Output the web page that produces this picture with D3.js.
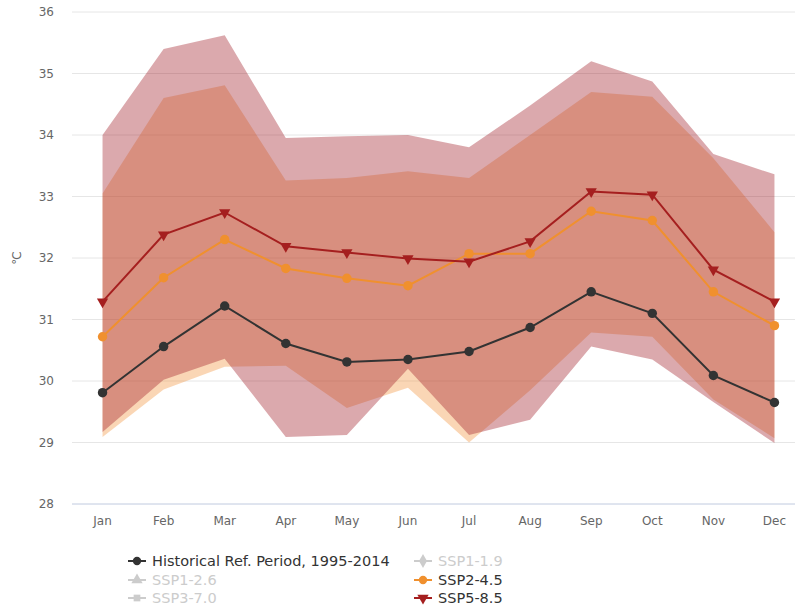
<!DOCTYPE html>
<html>
<head>
<meta charset="utf-8">
<script src="https://cdn.jsdelivr.net/npm/d3@7"></script>
<style>
  html, body { margin: 0; padding: 0; background: #fff; }
  svg { display: block; font-family: "DejaVu Sans", sans-serif; }
</style>
</head>
<body>
<svg id="chart" width="795" height="609"></svg>
<script>
// Monthly mean temperature (°C): historical reference and two SSP projections with ranges
const months = ["Jan","Feb","Mar","Apr","May","Jun","Jul","Aug","Sep","Oct","Nov","Dec"];
const yTicks = [28, 29, 30, 31, 32, 33, 34, 35, 36];

const historical = [29.81, 30.56, 31.22, 30.61, 30.31, 30.35, 30.48, 30.87, 31.45, 31.10, 30.09, 29.65];
const ssp245     = [30.72, 31.68, 32.30, 31.83, 31.67, 31.55, 32.07, 32.07, 32.76, 32.61, 31.45, 30.90];
const ssp585     = [31.29, 32.38, 32.74, 32.19, 32.09, 31.99, 31.94, 32.27, 33.08, 33.03, 31.81, 31.29];

const ssp245Low  = [29.09, 29.86, 30.23, 30.25, 29.56, 29.89, 29.00, 29.85, 30.79, 30.72, 29.70, 29.07];
const ssp245High = [33.05, 34.60, 34.81, 33.26, 33.30, 33.41, 33.30, 34.00, 34.70, 34.62, 33.62, 32.42];
const ssp585Low  = [29.17, 30.02, 30.36, 29.09, 29.12, 30.20, 29.12, 29.37, 30.56, 30.35, 29.66, 28.99];
const ssp585High = [34.00, 35.40, 35.62, 33.95, 33.98, 34.00, 33.80, 34.48, 35.20, 34.87, 33.69, 33.36];

const legendItems = [
  { name: "Historical Ref. Period, 1995-2014", symbol: "circle",   color: "#333333", active: true,  col: 0, row: 0 },
  { name: "SSP1-1.9",                          symbol: "diamond",  color: "#cccccc", active: false, col: 1, row: 0 },
  { name: "SSP1-2.6",                          symbol: "triangle", color: "#cccccc", active: false, col: 0, row: 1 },
  { name: "SSP2-4.5",                          symbol: "circle",   color: "#f0902e", active: true,  col: 1, row: 1 },
  { name: "SSP3-7.0",                          symbol: "square",   color: "#cccccc", active: false, col: 0, row: 2 },
  { name: "SSP5-8.5",                          symbol: "triangle-down", color: "#a51f1f", active: true, col: 1, row: 2 }
];

const svg = d3.select("#chart");

const x = d3.scaleBand().domain(months).range([72, 805]).padding(0);
const cx = m => x(m) + x.bandwidth() / 2;
const y = d3.scaleLinear().domain([28, 36]).range([504, 12]);

// Horizontal grid lines
svg.append("g")
  .selectAll("line")
  .data(yTicks)
  .join("line")
  .attr("x1", 72).attr("x2", 805)
  .attr("y1", d => y(d)).attr("y2", d => y(d))
  .attr("stroke", "#e6e6e6").attr("stroke-width", 1);

// Y axis labels
const yAxis = svg.append("g")
  .attr("transform", "translate(54,0)")
  .call(d3.axisLeft(y).tickValues(yTicks).tickSize(0).tickPadding(0).tickFormat(d3.format("d")));
yAxis.select(".domain").remove();
yAxis.selectAll("text")
  .attr("fill", "#666").attr("font-size", "12px")
  .attr("font-family", "DejaVu Sans, sans-serif");

// Y axis title
svg.append("text")
  .attr("transform", `translate(17,${y(32)}) rotate(-90)`)
  .attr("text-anchor", "middle").attr("dominant-baseline", "central")
  .attr("fill", "#666").attr("font-size", "12px")
  .text("℃");

// Range bands
const band = (lo, hi) => d3.area()
  .x((d, i) => cx(months[i]))
  .y0((d, i) => y(lo[i]))
  .y1((d, i) => y(hi[i]));

svg.append("path")
  .attr("d", band(ssp245Low, ssp245High)(months))
  .attr("fill", "rgb(240,140,50)").attr("fill-opacity", 0.36);

svg.append("path")
  .attr("d", band(ssp585Low, ssp585High)(months))
  .attr("fill", "rgb(160,30,40)").attr("fill-opacity", 0.38);

// X axis
const xAxis = svg.append("g")
  .attr("transform", "translate(0,504)")
  .call(d3.axisBottom(x).tickSize(0).tickPadding(12));
xAxis.select(".domain").attr("stroke", "#ccd6eb").attr("d", "M72,0H805");
xAxis.selectAll("text")
  .attr("fill", "#666").attr("font-size", "12px")
  .attr("font-family", "DejaVu Sans, sans-serif");

// Series lines and markers
const line = d3.line().x((d, i) => cx(months[i])).y(d => y(d));

function drawSeries(values, color, symbolType, size) {
  const g = svg.append("g");
  g.append("path")
    .attr("d", line(values))
    .attr("fill", "none").attr("stroke", color).attr("stroke-width", 2);
  g.selectAll("path.marker")
    .data(values)
    .join("path")
    .attr("class", "marker")
    .attr("transform", (d, i) => `translate(${cx(months[i])},${y(d)})` + (symbolType === "triangle-down" ? " rotate(180)" : ""))
    .attr("d", d3.symbol().type(symbolType === "triangle-down" ? d3.symbolTriangle : d3.symbolCircle).size(size))
    .attr("fill", color);
}

drawSeries(historical, "#333333", "circle", 70);
drawSeries(ssp245, "#f0902e", "circle", 70);
drawSeries(ssp585, "#a51f1f", "triangle-down", 55);

// Legend
const legend = svg.append("g");
const colX = [137, 423];
const rowY = [561, 580, 598];
const symbolFor = s => ({
  circle: d3.symbolCircle, diamond: d3.symbolDiamond, triangle: d3.symbolTriangle,
  square: d3.symbolSquare, "triangle-down": d3.symbolTriangle
})[s];

legendItems.forEach(item => {
  const gx = colX[item.col], gy = rowY[item.row];
  const g = legend.append("g").attr("transform", `translate(${gx},${gy})`);
  g.append("line").attr("x1", -9).attr("x2", 9).attr("y1", 0).attr("y2", 0)
    .attr("stroke", item.color).attr("stroke-width", 2);
  g.append("path")
    .attr("d", d3.symbol().type(symbolFor(item.symbol)).size(item.symbol === "square" ? 45 : 55)())
    .attr("transform", item.symbol === "triangle-down" ? "rotate(180)" : null)
    .attr("fill", item.color);
  g.append("text")
    .attr("x", 15).attr("y", 0).attr("dominant-baseline", "central")
    .attr("font-size", "14.5px")
    .attr("fill", item.active ? "#333333" : "#cccccc")
    .text(item.name);
});
</script>
</body>
</html>
